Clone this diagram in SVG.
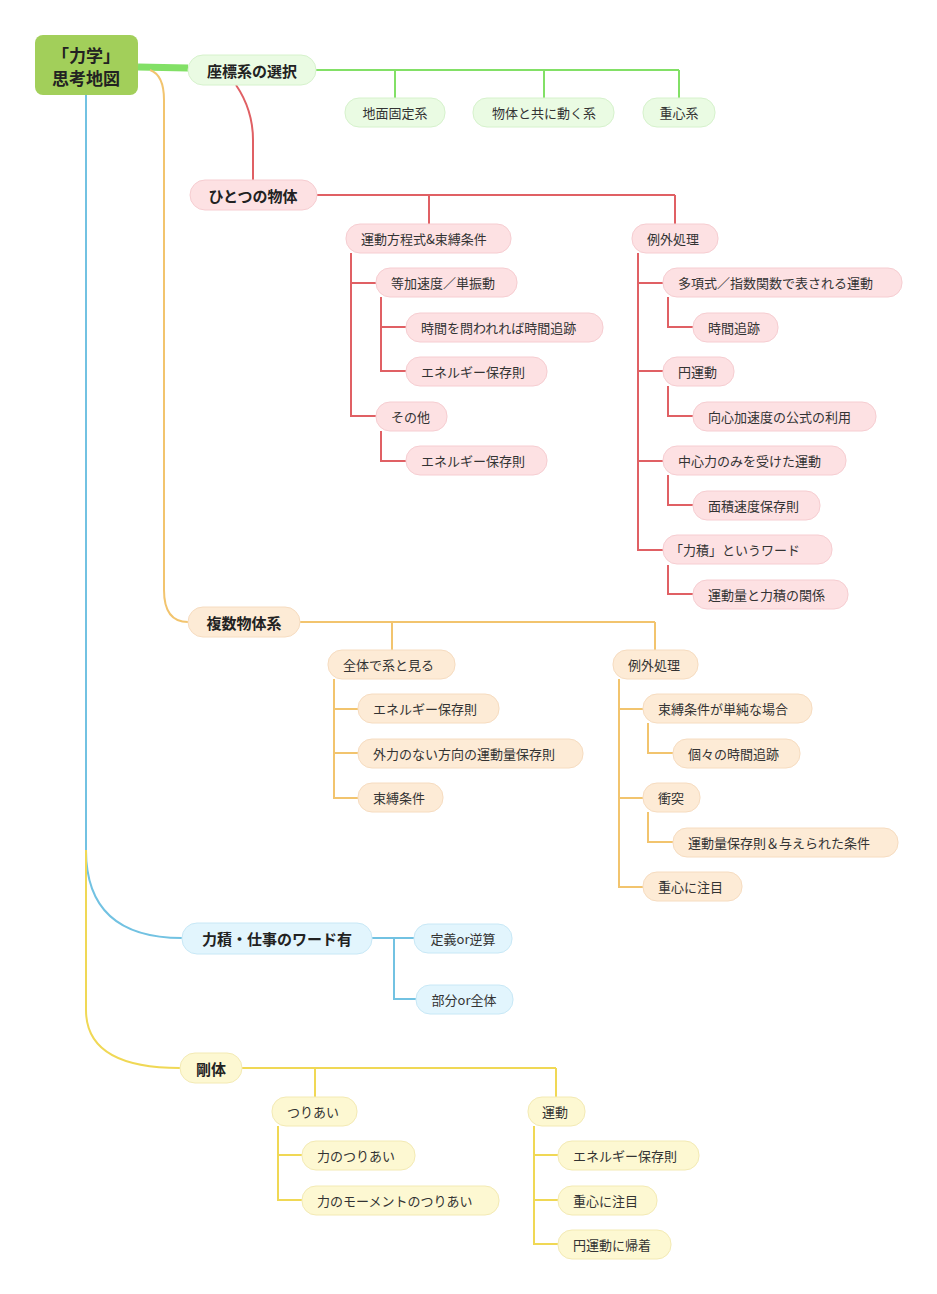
<svg xmlns="http://www.w3.org/2000/svg" width="937" height="1294" viewBox="0 0 937 1294">
<style>
text{font-family:"Noto Sans CJK JP","Noto Sans",sans-serif;font-size:13px;fill:#333;dominant-baseline:central}
.m{font-size:15px;font-weight:bold;fill:#222}
.g rect{fill:#eafbe3;stroke:#d6f2cc}
.r rect{fill:#fde1e3;stroke:#f6cdd1}
.o rect{fill:#fdebd6;stroke:#f6dcc0}
.b rect{fill:#e2f5fd;stroke:#c8e8f6}
.y rect{fill:#fdf8d2;stroke:#f3eab4}
.cg{stroke:#82e066;fill:none;stroke-width:2}
.cr{stroke:#e06064;fill:none;stroke-width:2}
.co{stroke:#f2c46e;fill:none;stroke-width:2}
.cb{stroke:#72c2e2;fill:none;stroke-width:2}
.cy{stroke:#f0d855;fill:none;stroke-width:2}
</style>
<rect width="937" height="1294" fill="#fff"/>
<g id="connectors">
<path class="cg" d="M138 67 L188 68" stroke-width="7" style="stroke-width:7"/>
<path class="cg" d="M316 70 H679 M395 70 V98 M544 70 V98 M679 70 V98"/>
<path class="cr" d="M236 85 Q253 110 253 140 V180"/>
<path class="cr" d="M317 195 H675 M429 195 V224 M675 195 V224"/>
<path class="cr" d="M351 253 V416 H376 M351 283 H376 M381 297 V371 H406 M381 327 H406 M381 431 V461 H406"/>
<path class="cr" d="M638 253 V550 H663 M638 283 H663 M638 371 H663 M638 461 H663 M668 297 V327 H693 M668 386 V416 H693 M668 475 V505 H693 M668 565 V594 H693"/>
<path class="co" d="M150 70 Q164 75 164 100 V590 Q164 622 188 622"/>
<path class="co" d="M300 622 H655 M392 622 V650 M655 622 V650"/>
<path class="co" d="M334 679 V798 H358 M334 709 H358 M334 753 H358"/>
<path class="co" d="M619 679 V887 H643 M619 709 H643 M619 798 H643 M648 723 V753 H673 M648 812 V842 H673"/>
<path class="cb" d="M86 95 V850 Q86 938 182 938 M372 938 H414 M394 938 V999 H416"/>
<path class="cy" d="M86 850 V1010 Q86 1068 180 1068 M242 1068 H556 M315 1068 V1097 M556 1068 V1097"/>
<path class="cy" d="M278 1126 V1200 H302 M278 1155 H302 M534 1126 V1244 H558 M534 1155 H558 M534 1200 H558"/>
</g>
<g id="root"><rect x="35" y="35" width="103" height="60" rx="8" fill="#a2cf5a"/><text class="m" x="86" y="54" text-anchor="middle" style="font-size:17px">「力学」</text><text class="m" x="86" y="77" text-anchor="middle" style="font-size:17px">思考地図</text></g>
<g id="n1" class="g"><rect x="188" y="55" width="128" height="30" rx="15"/><text class="m" x="252" y="70" text-anchor="middle">座標系の選択</text></g>
<g id="n1a" class="g"><rect x="345" y="98" width="100" height="29" rx="14"/><text x="395" y="112" text-anchor="middle">地面固定系</text></g>
<g id="n1b" class="g"><rect x="473" y="98" width="141" height="29" rx="14"/><text x="544" y="112" text-anchor="middle">物体と共に動く系</text></g>
<g id="n1c" class="g"><rect x="643" y="98" width="72" height="29" rx="14"/><text x="679" y="112" text-anchor="middle">重心系</text></g>
<g id="n2" class="r"><rect x="190" y="180" width="127" height="30" rx="15"/><text class="m" x="253" y="195" text-anchor="middle">ひとつの物体</text></g>
<g id="n2a" class="r"><rect x="346" y="224" width="165" height="29" rx="14"/><text x="361" y="238">運動方程式&amp;束縛条件</text></g>
<g id="n2a1" class="r"><rect x="376" y="268" width="141" height="29" rx="14"/><text x="391" y="282">等加速度／単振動</text></g>
<g id="n2a1a" class="r"><rect x="406" y="313" width="197" height="29" rx="14"/><text x="421" y="327">時間を問われれば時間追跡</text></g>
<g id="n2a1b" class="r"><rect x="406" y="357" width="141" height="29" rx="14"/><text x="421" y="371">エネルギー保存則</text></g>
<g id="n2a2" class="r"><rect x="376" y="402" width="71" height="29" rx="14"/><text x="391" y="416">その他</text></g>
<g id="n2a2a" class="r"><rect x="406" y="446" width="141" height="29" rx="14"/><text x="421" y="460">エネルギー保存則</text></g>
<g id="n2b" class="r"><rect x="632" y="224" width="86" height="29" rx="14"/><text x="647" y="238">例外処理</text></g>
<g id="n2b1" class="r"><rect x="663" y="268" width="239" height="29" rx="14"/><text x="678" y="282">多項式／指数関数で表される運動</text></g>
<g id="n2b1a" class="r"><rect x="693" y="313" width="85" height="29" rx="14"/><text x="708" y="327">時間追跡</text></g>
<g id="n2b2" class="r"><rect x="663" y="357" width="71" height="29" rx="14"/><text x="678" y="371">円運動</text></g>
<g id="n2b2a" class="r"><rect x="693" y="402" width="183" height="29" rx="14"/><text x="708" y="416">向心加速度の公式の利用</text></g>
<g id="n2b3" class="r"><rect x="663" y="446" width="183" height="29" rx="14"/><text x="678" y="460">中心力のみを受けた運動</text></g>
<g id="n2b3a" class="r"><rect x="693" y="491" width="127" height="29" rx="14"/><text x="708" y="505">面積速度保存則</text></g>
<g id="n2b4" class="r"><rect x="663" y="535" width="169" height="29" rx="14"/><text x="670" y="549">「力積」というワード</text></g>
<g id="n2b4a" class="r"><rect x="693" y="580" width="155" height="29" rx="14"/><text x="708" y="594">運動量と力積の関係</text></g>
<g id="n3" class="o"><rect x="188" y="607" width="112" height="30" rx="15"/><text class="m" x="244" y="622" text-anchor="middle">複数物体系</text></g>
<g id="n3a" class="o"><rect x="328" y="650" width="127" height="29" rx="14"/><text x="343" y="664">全体で系と見る</text></g>
<g id="n3a1" class="o"><rect x="358" y="694" width="141" height="29" rx="14"/><text x="373" y="708">エネルギー保存則</text></g>
<g id="n3a2" class="o"><rect x="358" y="739" width="225" height="29" rx="14"/><text x="373" y="753">外力のない方向の運動量保存則</text></g>
<g id="n3a3" class="o"><rect x="358" y="783" width="85" height="29" rx="14"/><text x="373" y="797">束縛条件</text></g>
<g id="n3b" class="o"><rect x="613" y="650" width="85" height="29" rx="14"/><text x="628" y="664">例外処理</text></g>
<g id="n3b1" class="o"><rect x="643" y="694" width="169" height="29" rx="14"/><text x="658" y="708">束縛条件が単純な場合</text></g>
<g id="n3b1a" class="o"><rect x="673" y="739" width="127" height="29" rx="14"/><text x="688" y="753">個々の時間追跡</text></g>
<g id="n3b2" class="o"><rect x="643" y="783" width="57" height="29" rx="14"/><text x="658" y="797">衝突</text></g>
<g id="n3b2a" class="o"><rect x="673" y="828" width="225" height="29" rx="14"/><text x="688" y="842">運動量保存則＆与えられた条件</text></g>
<g id="n3b3" class="o"><rect x="643" y="872" width="99" height="29" rx="14"/><text x="658" y="886">重心に注目</text></g>
<g id="n4" class="b"><rect x="182" y="923" width="190" height="31" rx="15"/><text class="m" x="277" y="938" text-anchor="middle">力積・仕事のワード有</text></g>
<g id="n4a" class="b"><rect x="414" y="924" width="98" height="29" rx="14"/><text x="463" y="938" text-anchor="middle">定義or逆算</text></g>
<g id="n4b" class="b"><rect x="416" y="985" width="97" height="29" rx="14"/><text x="464" y="999" text-anchor="middle">部分or全体</text></g>
<g id="n5" class="y"><rect x="180" y="1053" width="62" height="30" rx="15"/><text class="m" x="211" y="1068" text-anchor="middle">剛体</text></g>
<g id="n5a" class="y"><rect x="272" y="1097" width="85" height="29" rx="14"/><text x="287" y="1111">つりあい</text></g>
<g id="n5a1" class="y"><rect x="302" y="1141" width="113" height="29" rx="14"/><text x="317" y="1155">力のつりあい</text></g>
<g id="n5a2" class="y"><rect x="302" y="1186" width="197" height="29" rx="14"/><text x="317" y="1200">力のモーメントのつりあい</text></g>
<g id="n5b" class="y"><rect x="528" y="1097" width="57" height="29" rx="14"/><text x="542" y="1111">運動</text></g>
<g id="n5b1" class="y"><rect x="558" y="1141" width="141" height="29" rx="14"/><text x="573" y="1155">エネルギー保存則</text></g>
<g id="n5b2" class="y"><rect x="558" y="1186" width="99" height="29" rx="14"/><text x="573" y="1200">重心に注目</text></g>
<g id="n5b3" class="y"><rect x="558" y="1230" width="113" height="29" rx="14"/><text x="573" y="1244">円運動に帰着</text></g>
</svg>
